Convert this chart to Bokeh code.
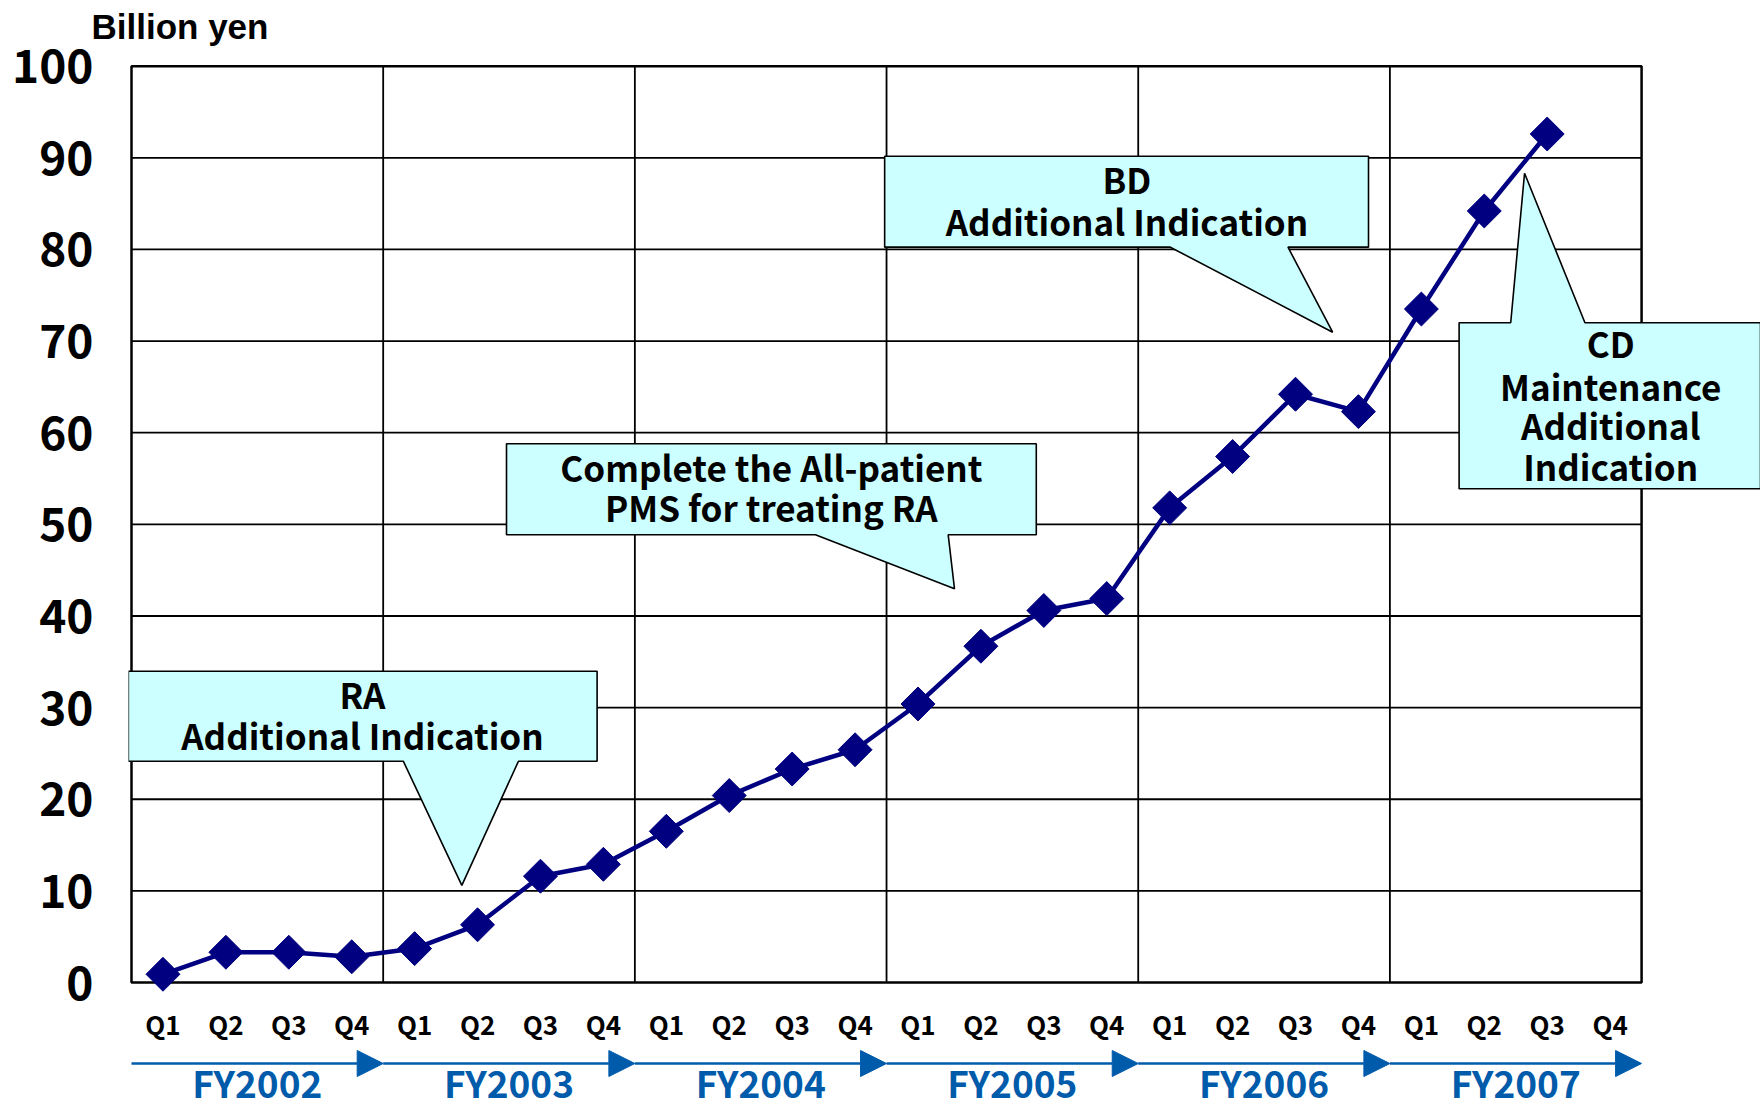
import numpy as np
from bokeh.plotting import figure
from bokeh.models import (FixedTicker, Range1d, PolyAnnotation, Label, Arrow, NormalHead)
from bokeh.embed import file_html
from bokeh.resources import INLINE

# ---------------- data ----------------
years = ["FY2002", "FY2003", "FY2004", "FY2005", "FY2006", "FY2007"]
quarters = ["Q1", "Q2", "Q3", "Q4"]
sales = [0.9, 3.3, 3.3, 2.8, 3.7, 6.3, 11.6, 12.9,
         16.5, 20.4, 23.3, 25.4, 30.4, 36.7, 40.6, 41.9,
         51.8, 57.4, 64.2, 62.3, 73.5, 84.2, 92.6]
y_ticks = [0, 10, 20, 30, 40, 50, 60, 70, 80, 90, 100]

n_slots = len(years) * len(quarters)
slot_centers = [i + 0.5 for i in range(n_slots)]
slot_labels = [quarters[i % 4] for i in range(n_slots)]
xs = slot_centers[:len(sales)]

# ---------------- layout (pixels) ----------------
W, H = 1760, 1109
FRAME_L, FRAME_T = 128, 50
X0_PX, XPX = 131.0, 62.92      # pixel of x=0, pixels per slot
Y0_PX, YPX = 982.0, 9.163      # pixel of y=0, pixels per unit
x_start = -(X0_PX - FRAME_L) / XPX
x_end = x_start + (W - FRAME_L) / XPX
y_top = (Y0_PX - FRAME_T) / YPX
y_bottom = y_top - (H - FRAME_T) / YPX

JP = "Noto Sans CJK JP"
NAVY = "#000080"
BLUE = "#005BAB"
CYAN = "#CCFFFF"

p = figure(width=W, height=H, output_backend="svg", toolbar_location=None,
           x_range=Range1d(x_start, x_end), y_range=Range1d(y_bottom, y_top),
           min_border_left=FRAME_L, min_border_right=0, min_border_top=FRAME_T,
           min_border_bottom=0)
p.background_fill_color = "white"
p.border_fill_color = "white"
p.outline_line_color = None
p.xgrid.visible = False
p.ygrid.visible = False

# title
p.title.text = "Billion yen"
p.title.align = "left"
p.title.offset = -37
p.title.standoff = 9
p.title.text_font = "Liberation Sans"
p.title.text_font_style = "bold"
p.title.text_font_size = "35px"
p.title.text_color = "black"

# chart area grid and border
vx = [4 * k for k in range(1, len(years))]
p.segment(x0=vx, y0=[0] * len(vx), x1=vx, y1=[100] * len(vx),
          line_color="black", line_width=1.8)
hy = y_ticks[1:-1]
p.segment(x0=[0] * len(hy), y0=hy, x1=[n_slots] * len(hy), y1=hy,
          line_color="black", line_width=1.8)
p.quad(left=[0], right=[n_slots], bottom=[0], top=[100], fill_color=None,
       line_color="black", line_width=2.5)

# axes
p.yaxis.ticker = FixedTicker(ticks=y_ticks)
p.yaxis.axis_line_color = None
p.yaxis.major_tick_line_color = None
p.yaxis.minor_tick_line_color = None
p.yaxis.major_label_standoff = 29
p.yaxis.major_label_text_font = JP
p.yaxis.major_label_text_font_style = "bold"
p.yaxis.major_label_text_font_size = "46px"
p.yaxis.major_label_text_color = "black"

p.xaxis.fixed_location = 0
p.xaxis.ticker = FixedTicker(ticks=slot_centers)
p.xaxis.major_label_overrides = {c: l for c, l in zip(slot_centers, slot_labels)}
p.xaxis.axis_line_color = None
p.xaxis.major_tick_line_color = None
p.xaxis.minor_tick_line_color = None
p.xaxis.major_label_standoff = 16
p.xaxis.major_label_text_font = JP
p.xaxis.major_label_text_font_style = "bold"
p.xaxis.major_label_text_font_size = "26px"
p.xaxis.major_label_text_color = "black"

# data
p.line(xs, sales, line_color=NAVY, line_width=4.5)
p.scatter(xs, sales, marker="square", angle=np.pi / 4, size=24,
          fill_color=NAVY, line_color=NAVY)

# callouts
def callout(xs_, ys_, lines, cx, mids):
    p.add_layout(PolyAnnotation(xs=xs_, ys=ys_, xs_units="data", ys_units="data",
                                fill_color=CYAN, fill_alpha=1.0,
                                line_color="black", line_alpha=1.0, line_width=1.6))
    for t, m in zip(lines, mids):
        p.add_layout(Label(x=cx, y=m, text=t, text_align="center",
                           text_baseline="middle", text_font=JP,
                           text_font_style="bold", text_font_size="35px",
                           text_color="black"))

# RA
callout([-0.05, 7.40, 7.40, 6.15, 5.25, 4.32, -0.05],
        [33.97, 33.97, 24.15, 24.15, 10.6, 24.15, 24.15],
        ["RA", "Additional Indication"], 3.67, [31.5, 27.1])
# PMS
callout([5.96, 14.38, 14.38, 12.98, 13.08, 10.87, 5.96],
        [58.79, 58.79, 48.86, 48.86, 42.97, 48.86, 48.86],
        ["Complete the All-patient", "PMS for treating RA"], 10.17, [56.3, 51.9])
# BD
callout([11.97, 19.66, 19.66, 18.38, 19.09, 16.51, 11.97],
        [90.18, 90.18, 80.25, 80.25, 70.97, 80.25, 80.25],
        ["BD", "Additional Indication"], 15.82, [87.7, 83.2])
# CD
callout([21.10, 21.92, 22.14, 23.10, 25.89, 25.89, 21.10],
        [72.0, 72.0, 88.32, 72.0, 72.0, 53.88, 53.88],
        ["CD", "Maintenance", "Additional", "Indication"], 23.51,
        [69.85, 65.2, 60.9, 56.45])

# fiscal-year arrows and labels
arrow_y = -8.84
for k, yname in enumerate(years):
    p.add_layout(Arrow(x_start=4 * k, y_start=arrow_y, x_end=4 * (k + 1), y_end=arrow_y,
                       line_color=BLUE, line_width=2.5,
                       end=NormalHead(size=26, fill_color=BLUE, line_color=BLUE)))
    p.add_layout(Label(x=4 * k + 2, y=-10.9, text=yname, text_align="center",
                       text_baseline="middle", text_font=JP, text_font_style="bold",
                       text_font_size="37px", text_color=BLUE))

open("out.html", "w").write(file_html(p, INLINE))
